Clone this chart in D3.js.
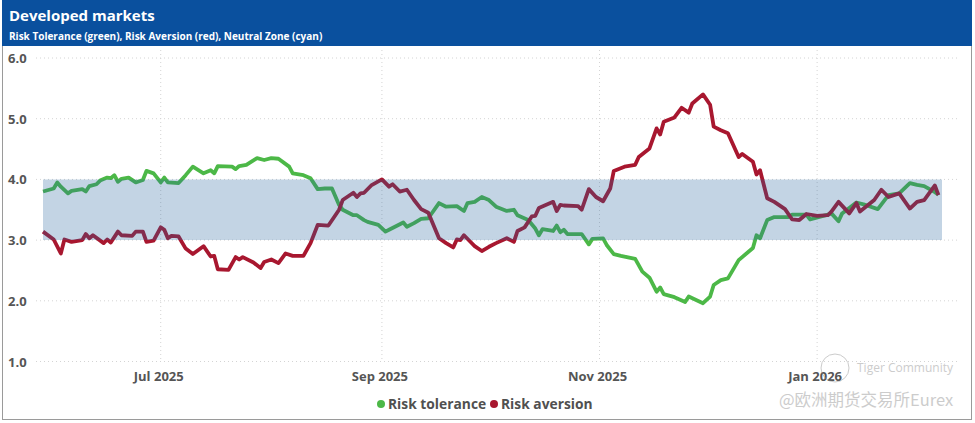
<!DOCTYPE html>
<html>
<head>
<meta charset="utf-8">
<script src="https://cdn.jsdelivr.net/npm/d3@7"></script>
<style>
  body { margin: 0; background: #fff; }
  text { font-family: "Open Sans", "Noto Sans", sans-serif; }
</style>
</head>
<body>
<script>
// Developed markets - risk tolerance vs risk aversion

var width = 975, height = 423;

// ---- data ----
var toleranceDates = ["2025-05-29","2025-06-01","2025-06-02","2025-06-03","2025-06-05","2025-06-06","2025-06-09","2025-06-10","2025-06-11","2025-06-13","2025-06-14","2025-06-16","2025-06-17","2025-06-18","2025-06-19","2025-06-20","2025-06-22","2025-06-24","2025-06-26","2025-06-27","2025-06-29","2025-07-01","2025-07-02","2025-07-03","2025-07-06","2025-07-08","2025-07-10","2025-07-13","2025-07-15","2025-07-16","2025-07-17","2025-07-21","2025-07-22","2025-07-23","2025-07-25","2025-07-28","2025-07-30","2025-08-01","2025-08-03","2025-08-06","2025-08-07","2025-08-10","2025-08-12","2025-08-14","2025-08-16","2025-08-18","2025-08-20","2025-08-21","2025-08-24","2025-08-25","2025-08-27","2025-08-28","2025-08-31","2025-09-02","2025-09-03","2025-09-07","2025-09-08","2025-09-10","2025-09-12","2025-09-14","2025-09-17","2025-09-19","2025-09-22","2025-09-24","2025-09-25","2025-09-27","2025-09-29","2025-10-01","2025-10-03","2025-10-06","2025-10-08","2025-10-09","2025-10-12","2025-10-14","2025-10-15","2025-10-16","2025-10-19","2025-10-20","2025-10-21","2025-10-22","2025-10-23","2025-10-27","2025-10-29","2025-10-30","2025-11-02","2025-11-03","2025-11-05","2025-11-07","2025-11-11","2025-11-13","2025-11-15","2025-11-17","2025-11-18","2025-11-19","2025-11-22","2025-11-25","2025-11-26","2025-11-30","2025-12-02","2025-12-03","2025-12-05","2025-12-07","2025-12-10","2025-12-14","2025-12-15","2025-12-16","2025-12-18","2025-12-20","2025-12-24","2025-12-25","2025-12-29","2025-12-30","2026-01-04","2026-01-05","2026-01-07","2026-01-08","2026-01-12","2026-01-14","2026-01-18","2026-01-21","2026-01-24","2026-01-27","2026-01-29","2026-01-31","2026-02-03","2026-02-04"];
var toleranceValues = [3.80,3.85,3.95,3.88,3.77,3.81,3.84,3.80,3.89,3.92,3.98,4.03,4.02,4.07,3.96,4.01,4.03,3.95,3.99,4.14,4.10,3.95,4.03,3.95,3.94,4.07,4.21,4.10,4.15,4.10,4.22,4.21,4.17,4.22,4.24,4.35,4.32,4.35,4.34,4.21,4.10,4.07,4.02,3.84,3.85,3.85,3.58,3.50,3.41,3.41,3.33,3.30,3.25,3.14,3.17,3.29,3.22,3.28,3.35,3.36,3.61,3.55,3.56,3.48,3.61,3.63,3.71,3.66,3.55,3.48,3.50,3.41,3.33,3.19,3.08,3.18,3.15,3.24,3.13,3.17,3.10,3.10,2.93,3.02,3.03,2.92,2.77,2.74,2.69,2.48,2.38,2.15,2.22,2.11,2.06,1.98,2.07,1.96,2.07,2.26,2.34,2.37,2.67,2.87,3.08,3.03,3.33,3.38,3.38,3.42,3.42,3.34,3.42,3.44,3.31,3.44,3.62,3.59,3.51,3.74,3.77,3.94,3.91,3.89,3.79,3.75];

var aversionDates = ["2025-05-29","2025-06-01","2025-06-03","2025-06-04","2025-06-06","2025-06-09","2025-06-10","2025-06-11","2025-06-12","2025-06-15","2025-06-16","2025-06-17","2025-06-19","2025-06-20","2025-06-23","2025-06-24","2025-06-26","2025-06-27","2025-06-29","2025-07-01","2025-07-02","2025-07-03","2025-07-04","2025-07-06","2025-07-08","2025-07-10","2025-07-13","2025-07-15","2025-07-16","2025-07-17","2025-07-20","2025-07-22","2025-07-23","2025-07-24","2025-07-27","2025-07-29","2025-07-30","2025-08-01","2025-08-03","2025-08-05","2025-08-07","2025-08-10","2025-08-12","2025-08-14","2025-08-17","2025-08-20","2025-08-21","2025-08-24","2025-08-25","2025-08-26","2025-08-27","2025-08-29","2025-09-01","2025-09-03","2025-09-04","2025-09-06","2025-09-08","2025-09-10","2025-09-12","2025-09-14","2025-09-17","2025-09-19","2025-09-21","2025-09-22","2025-09-23","2025-09-24","2025-09-26","2025-09-27","2025-09-29","2025-10-01","2025-10-03","2025-10-06","2025-10-08","2025-10-09","2025-10-11","2025-10-13","2025-10-14","2025-10-15","2025-10-19","2025-10-20","2025-10-21","2025-10-22","2025-10-26","2025-10-27","2025-10-29","2025-10-31","2025-11-02","2025-11-04","2025-11-05","2025-11-08","2025-11-11","2025-11-12","2025-11-15","2025-11-17","2025-11-18","2025-11-19","2025-11-22","2025-11-24","2025-11-26","2025-11-27","2025-11-30","2025-12-02","2025-12-03","2025-12-05","2025-12-07","2025-12-10","2025-12-11","2025-12-14","2025-12-15","2025-12-16","2025-12-18","2025-12-20","2025-12-23","2025-12-25","2025-12-27","2025-12-29","2026-01-01","2026-01-04","2026-01-05","2026-01-07","2026-01-10","2026-01-12","2026-01-13","2026-01-17","2026-01-19","2026-01-21","2026-01-24","2026-01-27","2026-01-29","2026-01-31","2026-02-03","2026-02-04"];
var aversionValues = [3.14,3.01,2.78,3.01,2.97,3.00,3.10,3.03,3.08,2.95,3.01,2.96,3.14,3.08,3.07,3.14,3.14,2.97,2.99,3.21,3.17,3.03,3.07,3.06,2.86,2.77,2.90,2.73,2.74,2.52,2.51,2.72,2.68,2.72,2.63,2.54,2.64,2.68,2.62,2.78,2.74,2.74,2.95,3.25,3.24,3.50,3.66,3.78,3.71,3.77,3.78,3.90,4.00,3.88,3.92,3.80,3.83,3.66,3.51,3.45,3.03,2.95,2.88,3.01,3.00,3.08,2.96,2.90,2.82,2.89,2.95,3.03,2.97,3.15,3.21,3.39,3.40,3.53,3.63,3.48,3.58,3.57,3.56,3.50,3.84,3.71,3.64,3.85,4.14,4.21,4.24,4.37,4.51,4.84,4.74,4.95,5.02,5.18,5.10,5.25,5.40,5.23,4.87,4.81,4.76,4.37,4.42,4.29,4.08,4.15,3.69,3.63,3.51,3.34,3.33,3.43,3.40,3.41,3.47,3.63,3.44,3.61,3.47,3.66,3.83,3.71,3.77,3.52,3.63,3.66,3.90,3.74];

// neutral zone band
var neutralLow = 3, neutralHigh = 4;
var neutralDates = ["2025-05-29", "2026-02-05"];

var yTicks = [1, 2, 3, 4, 5, 6];
var seriesNames = ["Risk tolerance", "Risk aversion"];
var seriesColours = ["#4cb847", "#a8172f"];

var parseDate = d3.timeParse("%Y-%m-%d");

var tolerance = toleranceDates.map((d, i) => ({date: parseDate(d), value: toleranceValues[i]}));
var aversion = aversionDates.map((d, i) => ({date: parseDate(d), value: aversionValues[i]}));

var svg = d3.select("body")
    .append("svg")
    .attr("width", width)
    .attr("height", height);

// ---- header + frame ----
svg.append("rect")
    .attr("x", 2.5).attr("y", 0.5)
    .attr("width", 969).attr("height", 419)
    .attr("fill", "#fff")
    .attr("stroke", "#9a9a9a");

svg.append("rect")
    .attr("x", 2).attr("y", 0)
    .attr("width", 970).attr("height", 46)
    .attr("fill", "#0a509e");

svg.append("text")
    .attr("x", 9).attr("y", 21)
    .text("Developed markets")
    .style("font-size", "15px")
    .style("font-weight", "bold")
    .attr("fill", "#fff");

svg.append("text")
    .attr("x", 9).attr("y", 40)
    .text("Risk Tolerance (green), Risk Aversion (red), Neutral Zone (cyan)")
    .style("font-size", "10px")
    .style("font-weight", "bold")
    .attr("fill", "#fff");

// ---- scales ----
var x = d3.scaleTime()
    .domain([parseDate(neutralDates[0]), parseDate(neutralDates[1])])
    .range([43, 942]);

var y = d3.scaleLinear()
    .domain([1, 6])
    .range([361.5, 58]);

// grid lines
svg.append("g")
    .selectAll("line")
    .data(yTicks)
    .enter()
    .append("line")
        .attr("x1", 36).attr("x2", 958)
        .attr("y1", (d) => y(d)).attr("y2", (d) => y(d))
        .attr("stroke", "#d4d4d4")
        .attr("stroke-dasharray", "1,3");

var xTicks = x.ticks(d3.timeMonth.every(2));
svg.append("g")
    .selectAll("line")
    .data(xTicks)
    .enter()
    .append("line")
        .attr("x1", (d) => x(d)).attr("x2", (d) => x(d))
        .attr("y1", 50).attr("y2", 362)
        .attr("stroke", "#d4d4d4")
        .attr("stroke-dasharray", "1,3");

// y axis labels
svg.append("g")
    .selectAll("text")
    .data(yTicks)
    .enter()
    .append("text")
        .attr("x", 8)
        .attr("y", (d) => y(d) + 5)
        .text((d) => d3.format(".1f")(d))
        .style("font-size", "13px")
        .style("font-weight", "bold")
        .attr("fill", "#555");

// x axis labels
svg.append("g")
    .selectAll("text")
    .data(xTicks)
    .enter()
    .append("text")
        .attr("x", (d) => x(d) - 2)
        .attr("y", 381)
        .attr("text-anchor", "middle")
        .text((d) => d3.timeFormat("%b %Y")(d))
        .style("font-size", "13px")
        .style("font-weight", "bold")
        .attr("fill", "#555");

// ---- lines ----
var line = d3.line()
    .x((d) => x(d.date))
    .y((d) => y(d.value));

[tolerance, aversion].forEach((s, i) => {
    svg.append("path")
        .datum(s)
        .attr("d", line)
        .attr("fill", "none")
        .attr("stroke", seriesColours[i])
        .attr("stroke-width", 3.8)
        .attr("stroke-linejoin", "round");
});

// neutral zone drawn over the lines (semi transparent)
var band = d3.area()
    .x((d) => x(d))
    .y0(y(neutralLow))
    .y1(y(neutralHigh));

svg.append("path")
    .datum(neutralDates.map(parseDate))
    .attr("d", band)
    .attr("fill", "#28649f")
    .attr("fill-opacity", 0.28);

// ---- legend ----
var legend = svg.append("g");
var legendX = [381, 494];
seriesNames.forEach((n, i) => {
    legend.append("circle")
        .attr("cx", legendX[i]).attr("cy", 404)
        .attr("r", 4)
        .attr("fill", seriesColours[i]);
    legend.append("text")
        .attr("x", legendX[i] + 7).attr("y", 409)
        .text(n)
        .style("font-size", "13.8px")
        .style("font-weight", "bold")
        .attr("fill", "#505050");
});

// ---- watermark ----
var wm = svg.append("g").attr("opacity", 0.5);
wm.append("circle")
    .attr("cx", 835).attr("cy", 368)
    .attr("r", 14)
    .attr("fill", "none")
    .attr("stroke", "#9a9a9a")
    .attr("stroke-width", 1);
wm.append("text")
    .attr("x", 857).attr("y", 372)
    .text("Tiger Community")
    .style("font-size", "12px")
    .attr("fill", "#9a9a9a");
wm.append("text")
    .attr("x", 779).attr("y", 406)
    .text("@欧洲期货交易所Eurex")
    .style("font-family", "'Noto Sans CJK SC', sans-serif")
    .style("font-size", "16.5px")
    .attr("fill", "#9a9a9a");
</script>
</body>
</html>
